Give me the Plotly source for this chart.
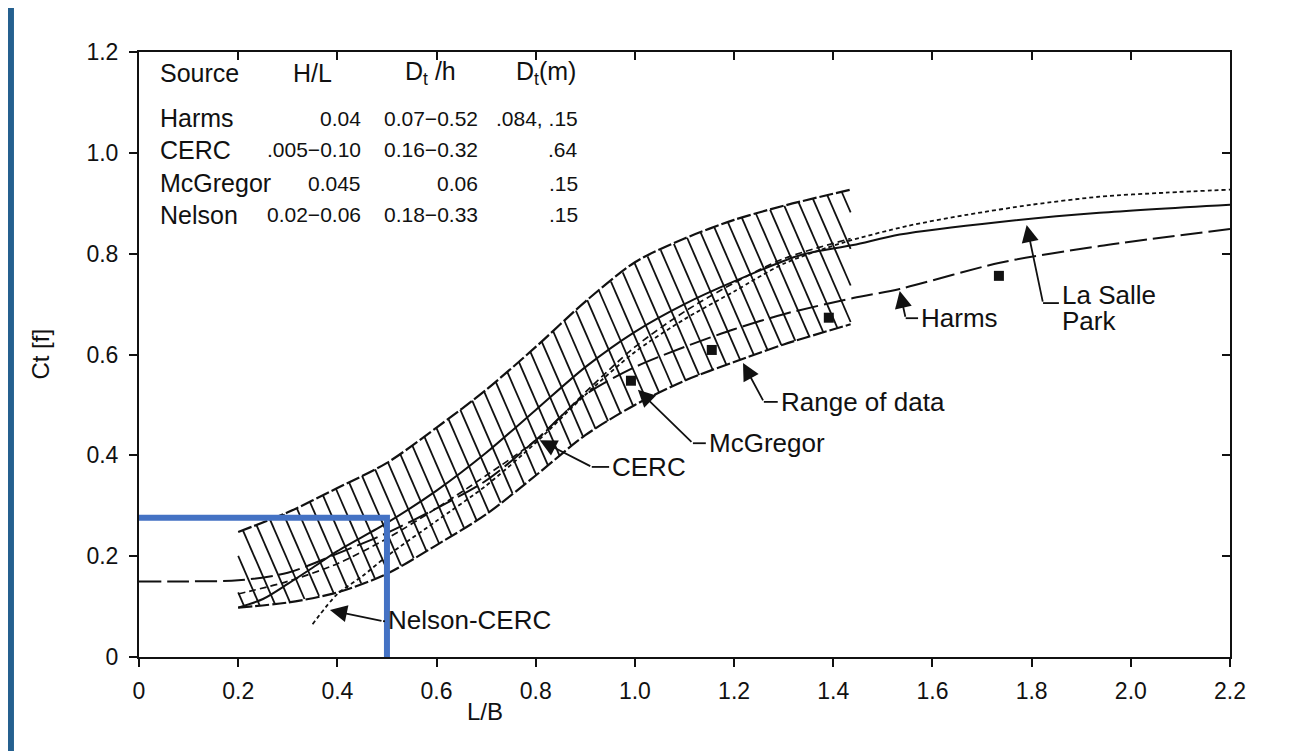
import numpy as np
import plotly.graph_objects as go

# ---------------- data ----------------
x_tick_vals = [0, 0.2, 0.4, 0.6, 0.8, 1.0, 1.2, 1.4, 1.6, 1.8, 2.0, 2.2]
x_tick_text = ["0", "0.2", "0.4", "0.6", "0.8", "1.0", "1.2", "1.4", "1.6", "1.8", "2.0", "2.2"]
y_tick_vals = [0, 0.2, 0.4, 0.6, 0.8, 1.0, 1.2]
y_tick_text = ["0", "0.2", "0.4", "0.6", "0.8", "1.0", "1.2"]

# Range of data (hatched band)
band_x = [0.2, 0.3, 0.4, 0.5, 0.6, 0.7, 0.8, 0.9, 1.0, 1.1, 1.2, 1.3, 1.435]
band_upper = [0.248, 0.287, 0.335, 0.385, 0.455, 0.53, 0.615, 0.705, 0.783, 0.83, 0.867, 0.895, 0.927]
band_lower = [0.098, 0.108, 0.128, 0.165, 0.222, 0.283, 0.36, 0.44, 0.50, 0.548, 0.585, 0.62, 0.66]

# Harms (long dash)
harms_x = [0, 0.1, 0.2, 0.3, 0.4, 0.5, 0.6, 0.7, 0.8, 0.9, 1.0, 1.1, 1.2, 1.3, 1.44, 1.534, 1.736, 1.937, 2.2]
harms_y = [0.15, 0.15, 0.152, 0.167, 0.205, 0.246, 0.295, 0.35, 0.43, 0.52, 0.575, 0.615, 0.65, 0.68, 0.712, 0.73, 0.782, 0.815, 0.849]

# La Salle Park (solid)
lasalle_x = [0.2, 0.25, 0.3, 0.35, 0.4, 0.5, 0.6, 0.7, 0.8, 0.9, 1.0, 1.1, 1.2, 1.333, 1.44, 1.534, 1.736, 1.937, 2.2]
lasalle_y = [0.098, 0.115, 0.145, 0.177, 0.21, 0.266, 0.33, 0.405, 0.49, 0.575, 0.645, 0.70, 0.745, 0.797, 0.817, 0.838, 0.863, 0.881, 0.897]

# CERC (dashed)
cerc_x = [0.2, 0.3, 0.4, 0.5, 0.6, 0.7, 0.8, 0.9, 1.0, 1.1, 1.2, 1.3, 1.435]
cerc_y = [0.125, 0.15, 0.185, 0.235, 0.295, 0.36, 0.43, 0.525, 0.615, 0.685, 0.742, 0.79, 0.83]

# Nelson-CERC (dotted)
nelson_x = [0.35, 0.4, 0.45, 0.5, 0.6, 0.7, 0.8, 0.9, 1.0, 1.1, 1.2, 1.3, 1.42, 1.55, 1.669, 1.8, 1.937, 2.07, 2.2]
nelson_y = [0.065, 0.125, 0.16, 0.2, 0.27, 0.34, 0.425, 0.52, 0.605, 0.67, 0.725, 0.78, 0.822, 0.855, 0.877, 0.897, 0.913, 0.921, 0.927]

# McGregor data points
mcgregor_x = [0.992, 1.155, 1.391, 1.734]
mcgregor_y = [0.548, 0.609, 0.673, 0.756]

# blue highlight overlay
highlight_x = [0, 0.5, 0.5]
highlight_y = [0.276, 0.276, 0]

# table
table_header = ["Source", "H/L", "D<sub>t</sub> /h", "D<sub>t</sub>(m)"]
table_source = ["Harms", "CERC", "McGregor", "Nelson"]
table_hl = ["0.04", ".005\u22120.10", "0.045", "0.02\u22120.06"]
table_dth = ["0.07\u22120.52", "0.16\u22120.32", "0.06", "0.18\u22120.33"]
table_dtm = [".084, .15", ".64", ".15", ".15"]
table_row_y = [1.069, 1.006, 0.940, 0.877]

# curve labels: text, text-left x, y, arrow tip (x, y), leader corner (x, y)
labels = [
    ("Harms", 1.575, 0.672, 1.534, 0.726, 1.546, 0.672),
    ("Range of data", 1.292, 0.506, 1.218, 0.583, 1.260, 0.506),
    ("McGregor", 1.147, 0.424, 1.006, 0.530, 1.117, 0.424),
    ("CERC", 0.952, 0.377, 0.808, 0.430, 0.913, 0.377),
    ("Nelson-CERC", 0.5, 0.073, 0.385, 0.093, 0.492, 0.071),
    ("La Salle", 1.859, 0.718, 1.790, 0.857, 1.823, 0.702),
]

INK = "#111111"
FONT = "Liberation Sans, Arial, Helvetica, sans-serif"

fig = go.Figure()

# ---- hatching of the band (pattern derived from the boundary arrays) ----
slope = 2.3 * 496 / 504
xs = np.linspace(band_x[0], band_x[-1], 4000)
up = np.interp(xs, band_x, band_upper)
lo = np.interp(xs, band_x, band_lower)
hx, hy = [], []
c = band_lower[0] + slope * band_x[0] + 0.03
c_end = band_upper[-1] + slope * band_x[-1]
step = slope * 0.032
while c < c_end:
    ys = c - slope * xs
    m = (ys <= up) & (ys >= lo)
    if m.any():
        idx = np.where(m)[0]
        i0, i1 = idx[0], idx[-1]
        hx += [float(xs[i0]), float(xs[i1]), None]
        hy += [float(ys[i0]), float(ys[i1]), None]
    c += step
fig.add_trace(go.Scatter(x=hx, y=hy, mode="lines", line=dict(color=INK, width=1.8),
                         hoverinfo="skip"))

# band boundaries
fig.add_trace(go.Scatter(x=band_x, y=band_upper, mode="lines",
                         line=dict(color=INK, width=2.2, dash="14px,3px", shape="spline", smoothing=0.8)))
fig.add_trace(go.Scatter(x=band_x, y=band_lower, mode="lines",
                         line=dict(color=INK, width=2.2, dash="14px,3px", shape="spline", smoothing=0.8)))

# curves
fig.add_trace(go.Scatter(x=harms_x, y=harms_y, mode="lines", name="Harms",
                         line=dict(color=INK, width=2.0, dash="22px,6px", shape="spline", smoothing=0.8)))
fig.add_trace(go.Scatter(x=lasalle_x, y=lasalle_y, mode="lines", name="La Salle Park",
                         line=dict(color=INK, width=2.0, shape="spline", smoothing=0.8)))
fig.add_trace(go.Scatter(x=cerc_x, y=cerc_y, mode="lines", name="CERC",
                         line=dict(color=INK, width=1.7, dash="7px,4px", shape="spline", smoothing=0.8)))
fig.add_trace(go.Scatter(x=nelson_x, y=nelson_y, mode="lines", name="Nelson-CERC",
                         line=dict(color=INK, width=1.8, dash="4px,3px", shape="spline", smoothing=0.8)))
fig.add_trace(go.Scatter(x=mcgregor_x, y=mcgregor_y, mode="markers", name="McGregor",
                         marker=dict(symbol="square", size=10, color=INK)))

# blue overlay
fig.add_trace(go.Scatter(x=highlight_x, y=highlight_y, mode="lines", cliponaxis=False,
                         line=dict(color="#4472C4", width=6)))

# dummy trace for mirrored top/right axes
fig.add_trace(go.Scatter(x=[None], y=[None], xaxis="x2", yaxis="y2", mode="lines", showlegend=False))

annotations = []
shapes = []

# table
col_specs = [(0.038, "left"), (0.349, "center"), (0.587, "center"), (0.821, "center")]
for (xx, anc), txt in zip(col_specs, table_header):
    annotations.append(dict(x=xx, y=1.158, xref="x", yref="y", text=txt, showarrow=False,
                            xanchor=anc, yanchor="middle", font=dict(size=25, family=FONT, color=INK)))
for i, yy in enumerate(table_row_y):
    annotations.append(dict(x=0.038, y=yy, xref="x", yref="y", text=table_source[i], showarrow=False,
                            xanchor="left", yanchor="middle", font=dict(size=25, family=FONT, color=INK)))
    for xx, col in ((0.452, table_hl), (0.687, table_dth), (0.889, table_dtm)):
        annotations.append(dict(x=xx, y=yy, xref="x", yref="y", text=col[i], showarrow=False,
                                xanchor="right", yanchor="middle", font=dict(size=21, family=FONT, color=INK)))

# labels with leaders
for text, tx, ty, ax_, ay_, cx, cy in labels:
    annotations.append(dict(x=tx, y=ty, xref="x", yref="y", text=text, showarrow=False,
                            xanchor="left", yanchor="middle", borderpad=0,
                            font=dict(size=26, family=FONT, color=INK)))
    annotations.append(dict(x=ax_, y=ay_, ax=cx, ay=cy, xref="x", yref="y", axref="x", ayref="y",
                            text="", showarrow=True, arrowhead=2, arrowsize=1.9, arrowwidth=1.8,
                            arrowcolor=INK))
    shapes.append(dict(type="line", xref="x", yref="y", x0=cx, y0=cy, x1=tx - 0.004, y1=cy,
                       line=dict(color=INK, width=1.8)))
annotations.append(dict(x=1.859, y=0.666, xref="x", yref="y", text="Park", showarrow=False,
                        xanchor="left", yanchor="middle", borderpad=0,
                        font=dict(size=26, family=FONT, color=INK)))

# axis titles
annotations.append(dict(x=-0.0907, y=0.5, xref="paper", yref="paper", text="Ct [f]", textangle=-90,
                        xanchor="center", yanchor="middle",
                        showarrow=False, font=dict(size=24, family=FONT, color=INK)))
annotations.append(dict(x=0.317, y=-0.0909, xref="paper", yref="paper", text="L/B",
                        xanchor="center", yanchor="middle",
                        showarrow=False, font=dict(size=24, family=FONT, color=INK)))

# blue frame of the picture (page offset of 8 px accounted for)
BLUE = "#25608F"
shapes += [
    dict(type="rect", xref="paper", yref="paper", x0=-0.1210, x1=-0.1146, y0=-0.17, y1=1.08,
         fillcolor=BLUE, line=dict(width=0), layer="above"),
    dict(type="rect", xref="paper", yref="paper", x0=1.0532, x1=1.0570, y0=-0.17, y1=1.08,
         fillcolor=BLUE, line=dict(width=0), layer="above"),
]

axis_common = dict(showline=True, linecolor=INK, linewidth=2, showgrid=False, zeroline=False,
                   tickcolor=INK, tickwidth=2, ticklen=8)

fig.update_layout(
    width=1283, height=743,
    margin=dict(l=131, r=61, t=44, b=94),
    paper_bgcolor="white", plot_bgcolor="white",
    showlegend=False,
    font=dict(family=FONT, color=INK),
    xaxis=dict(range=[0, 2.2], ticks="outside", tickvals=x_tick_vals, ticktext=x_tick_text,
               tickfont=dict(size=23, family=FONT, color=INK), ticklabelstandoff=4, **axis_common),
    yaxis=dict(range=[0, 1.2], ticks="outside", tickvals=y_tick_vals, ticktext=y_tick_text,
               tickfont=dict(size=23, family=FONT, color=INK), ticklabelstandoff=6, **axis_common),
    xaxis2=dict(range=[0, 2.2], overlaying="x", side="top", anchor="y2", ticks="inside",
                tickvals=x_tick_vals[1:-1], showticklabels=False, **axis_common),
    yaxis2=dict(range=[0, 1.2], overlaying="y", side="right", anchor="x2", ticks="inside",
                tickvals=y_tick_vals[1:-1], showticklabels=False, **axis_common),
    annotations=annotations,
    shapes=shapes,
)

fig.write_html("out.html")
